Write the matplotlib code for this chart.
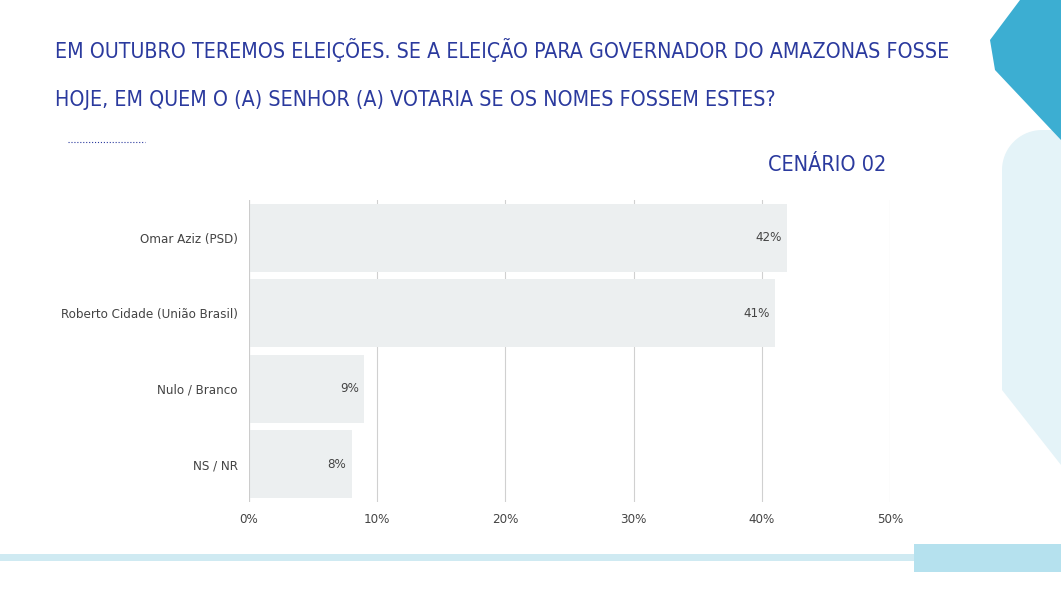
import matplotlib
matplotlib.use("Agg")
import matplotlib.pyplot as plt
import numpy as np
from matplotlib.patches import Polygon, Rectangle

categories = ["Omar Aziz (PSD)", "Roberto Cidade (União Brasil)", "Nulo / Branco", "NS / NR"]
values = [42, 41, 9, 8]
ticks = [0, 10, 20, 30, 40, 50]
tick_labels = ["0%", "10%", "20%", "30%", "40%", "50%"]

BLUE = "#2b3a9e"
COND = dict(fontstretch="condensed")
fig = plt.figure(figsize=(10.61, 5.97), dpi=100)
W, H = 1061, 597

# background decorations (figure pixel coords)
deco = fig.add_axes([0, 0, 1, 1], zorder=0)
deco.set_xlim(0, W); deco.set_ylim(H, 0); deco.axis("off")
t = np.linspace(np.pi, 1.5 * np.pi, 20)
arc = [(1042 + 40 * np.cos(a), 170 + 40 * np.sin(a)) for a in t]
deco.add_patch(Polygon([(1002, 390), (1002, 170)] + arc + [(1061, 130), (1061, 465)],
                       fc="#e4f3f8", ec="none"))
deco.add_patch(Polygon([(1020, 0), (1061, 0), (1061, 140), (995, 70), (990, 40)], fc="#3caed2", ec="none"))
deco.add_patch(Rectangle((0, 554), 1000, 7, fc="#cfeaf2", ec="none"))
deco.add_patch(Rectangle((914, 544), 147, 28, fc="#b5e1ee", ec="none"))
deco.plot([68, 145], [142, 142], color=BLUE, lw=0.8, ls=":")

fig.text(55 / W, 1 - 50 / H, "EM OUTUBRO TEREMOS ELEIÇÕES. SE A ELEIÇÃO PARA GOVERNADOR DO AMAZONAS FOSSE",
         color=BLUE, fontsize=15.3, va="center", ha="left", **COND)
fig.text(55 / W, 1 - 100 / H, "HOJE, EM QUEM O (A) SENHOR (A) VOTARIA SE OS NOMES FOSSEM ESTES?",
         color=BLUE, fontsize=15.3, va="center", ha="left", **COND)
fig.text(886 / W, 1 - 165 / H, "CENÁRIO 02", color=BLUE, fontsize=15.5, va="center", ha="right", **COND)

ax = fig.add_axes([249 / W, 1 - 502 / H, (890 - 249) / W, (502 - 200) / H], zorder=1)
ax.patch.set_alpha(0)
y = list(range(len(categories)))
ax.barh(y, values, height=0.9, color="#eceff0", zorder=2)
for yi, v in zip(y, values):
    ax.text(v - 0.4, yi, f"{v}%", ha="right", va="center", fontsize=9.5, color="#444444", zorder=3, **COND)
ax.set_xlim(0, 50)
ax.set_ylim(3.5, -0.5)
ax.set_yticks(y)
ax.set_yticklabels(categories, fontsize=9.5, color="#444444", **COND)
ax.set_xticks(ticks)
ax.set_xticklabels(tick_labels, fontsize=9.5, color="#444444", **COND)
ax.grid(axis="x", color="#d0d0d0", lw=0.8, zorder=0)
for s in ax.spines.values():
    s.set_visible(False)
ax.tick_params(length=0, pad=8)
ax.axvline(0, color="#cccccc", lw=0.8)

fig.savefig("out.png", dpi=100)
